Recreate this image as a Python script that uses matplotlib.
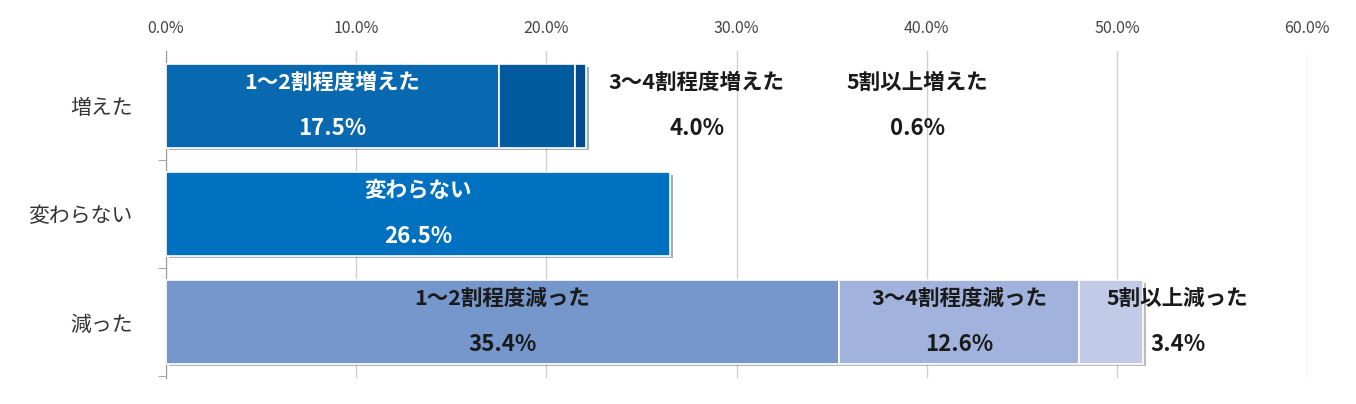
import matplotlib
matplotlib.use("Agg")
import matplotlib.pyplot as plt
import matplotlib.patheffects as pe

plt.rcParams['font.family'] = ['Noto Sans CJK JP', 'DejaVu Sans']

categories = ["増えた", "変わらない", "減った"]
seg_names = [
    ["1～2割程度増えた", "3～4割程度増えた", "5割以上増えた"],
    ["変わらない"],
    ["1～2割程度減った", "3～4割程度減った", "5割以上減った"],
]
seg_values = [[17.5, 4.0, 0.6], [26.5], [35.4, 12.6, 3.4]]
seg_colors = [["#0868B0", "#005A9E", "#004C8C"], ["#0070C0"],
              ["#7597CC", "#A1B3DC", "#C1CBE7"]]
# label position overrides (x in %, None = bar centre) and text colours
label_x = [[None, 27.9, 39.5], [None], [None, None, 53.2]]
label_col = [["white", "#1a1a1a", "#1a1a1a"], ["white"], ["#1a1a1a"] * 3]
xticks = [0, 10, 20, 30, 40, 50, 60]

fig = plt.figure(figsize=(13.56, 4.04), dpi=100)
ax = fig.add_axes([0.1224, 0.064, 0.8415, 0.810])

shadow = [pe.SimplePatchShadow(offset=(2, -2), alpha=0.35), pe.Normal()]
for i in range(len(categories)):
    left = 0
    for j, v in enumerate(seg_values[i]):
        ax.barh(i, v, left=left, height=0.77, color=seg_colors[i][j],
                edgecolor="white", linewidth=1.2, zorder=3, path_effects=shadow)
        lx = label_x[i][j] if label_x[i][j] is not None else left + v / 2
        ax.text(lx, i - 0.22, seg_names[i][j], ha="center", va="center",
                fontsize=15.5, fontweight="bold", color=label_col[i][j], zorder=5)
        ax.text(lx, i + 0.21, f"{v:.1f}%", ha="center", va="center",
                fontsize=16, fontweight="bold", color=label_col[i][j], zorder=5)
        left += v

ax.set_xlim(0, 60)
ax.set_ylim(2.52, -0.51)
ax.set_xticks(xticks)
ax.set_xticklabels([f"{t:.1f}%" for t in xticks], fontsize=11.5, color="#444444")
ax.xaxis.tick_top()
ax.tick_params(axis="x", length=0, pad=10)
ax.grid(axis="x", color="#d0d0d0", linewidth=1, zorder=0)
ax.set_yticks(range(len(categories)))
ax.set_yticklabels(categories, fontsize=15, color="#333333")
ax.set_yticks([0.5, 1.5, 2.5], minor=True)
ax.tick_params(axis="y", which="major", length=0, pad=24)
ax.tick_params(axis="y", which="minor", length=6, color="#999999")
for s in ["top", "right", "bottom"]:
    ax.spines[s].set_visible(False)
ax.spines["left"].set_color("#999999")

fig.savefig("out.png", dpi=100)
